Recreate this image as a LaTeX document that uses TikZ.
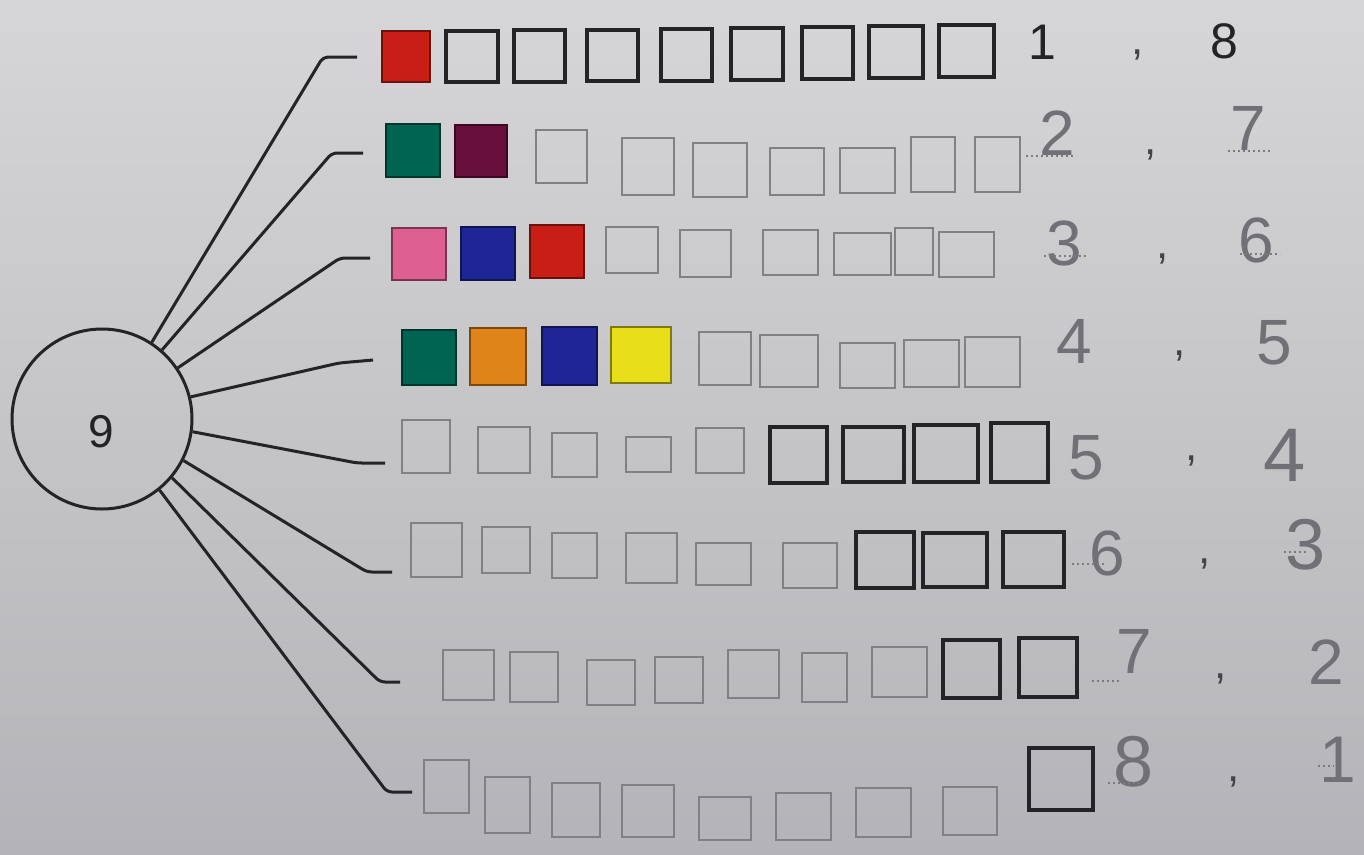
\documentclass[tikz,border=0pt]{standalone}
\usepackage{fontspec}
\setmainfont{Liberation Sans}
\usetikzlibrary{fit}
\definecolor{ink}{RGB}{35,35,40}
\definecolor{pencil}{RGB}{128,128,133}
\definecolor{hand}{RGB}{112,112,118}
\definecolor{bgtop}{RGB}{214,214,216}
\definecolor{bgbot}{RGB}{180,180,184}
\definecolor{cred}{RGB}{200,30,22}
\definecolor{cgreen}{RGB}{0,100,82}
\definecolor{cpurple}{RGB}{105,15,60}
\definecolor{cpink}{RGB}{222,95,145}
\definecolor{cblue}{RGB}{30,38,150}
\definecolor{corange}{RGB}{222,132,25}
\definecolor{cyellow}{RGB}{232,222,25}
\newcommand{\sqn}[6]{\node[#1, fit={(#3,#4) (#5,#6)}] (#2) {};}
\begin{document}
\begin{tikzpicture}[x=1pt,y=-1pt,
  sqbase/.style={rectangle, inner sep=0pt},
  graysq/.style={sqbase, draw=pencil, line width=2.3pt},
  blacksq/.style={sqbase, draw=ink, line width=3.2pt},
  colsq/.style={sqbase, fill=#1, draw=#1!55!black, line width=2.4pt},
  conn/.style={draw=ink, line width=3pt, rounded corners=5pt},
  ring/.style={circle, draw=ink, line width=3pt, minimum size=180pt, inner sep=0pt},
  printnum/.style={text=ink, font=\fontsize{50}{60}\selectfont, inner sep=0pt},
  handnum/.style={text=hand, font=\fontsize{64}{70}\selectfont, inner sep=0pt},
  commamark/.style={text=ink!85, font=\fontsize{44}{50}\selectfont, inner sep=0pt},
  dotline/.style={draw=ink!60, line width=1.6pt, dash pattern=on 1.6pt off 3.4pt}
]
\useasboundingbox (0,0) rectangle (1364,854);
\fill[top color=bgtop, bottom color=bgbot] (0,0) rectangle (1364,854);

% central circle
\node[ring] (c) at (102,419) {};
\node[printnum, font=\fontsize{46}{50}\selectfont] (nine) at (101,432) {9};

% row 1
\sqn{colsq=cred}{r1a}{382}{31}{430}{82}
\sqn{blacksq}{r1b}{446}{31}{498}{82}
\sqn{blacksq}{r1c}{514}{30}{565}{82}
\sqn{blacksq}{r1d}{587}{30}{638}{81}
\sqn{blacksq}{r1e}{661}{29}{712}{81}
\sqn{blacksq}{r1f}{731}{28}{783}{80}
\sqn{blacksq}{r1g}{802}{27}{853}{79}
\sqn{blacksq}{r1h}{869}{26}{923}{78}
\sqn{blacksq}{r1i}{939}{25}{994}{77}
% row 2
\sqn{colsq=cgreen}{r2a}{386}{124}{440}{177}
\sqn{colsq=cpurple}{r2b}{455}{125}{507}{177}
\sqn{graysq}{r2c}{536}{130}{587}{183}
\sqn{graysq}{r2d}{622}{138}{674}{195}
\sqn{graysq}{r2e}{693}{143}{747}{197}
\sqn{graysq}{r2f}{770}{148}{824}{195}
\sqn{graysq}{r2g}{840}{148}{895}{193}
\sqn{graysq}{r2h}{911}{137}{955}{192}
\sqn{graysq}{r2i}{975}{137}{1020}{192}
% row 3
\sqn{colsq=cpink}{r3a}{392}{228}{446}{280}
\sqn{colsq=cblue}{r3b}{461}{227}{515}{280}
\sqn{colsq=cred}{r3c}{530}{225}{584}{278}
\sqn{graysq}{r3d}{606}{227}{658}{273}
\sqn{graysq}{r3e}{680}{230}{731}{277}
\sqn{graysq}{r3f}{763}{230}{818}{275}
\sqn{graysq}{r3g}{834}{233}{891}{275}
\sqn{graysq}{r3h}{895}{228}{933}{275}
\sqn{graysq}{r3i}{939}{232}{994}{277}
% row 4
\sqn{colsq=cgreen}{r4a}{402}{330}{456}{385}
\sqn{colsq=corange}{r4b}{470}{328}{526}{385}
\sqn{colsq=cblue}{r4c}{542}{327}{597}{385}
\sqn{colsq=cyellow}{r4d}{611}{327}{671}{383}
\sqn{graysq}{r4e}{699}{332}{751}{385}
\sqn{graysq}{r4f}{760}{335}{818}{387}
\sqn{graysq}{r4g}{840}{343}{895}{388}
\sqn{graysq}{r4h}{904}{340}{959}{387}
\sqn{graysq}{r4i}{965}{337}{1020}{387}
% row 5
\sqn{graysq}{r5a}{402}{420}{450}{473}
\sqn{graysq}{r5b}{478}{427}{530}{473}
\sqn{graysq}{r5c}{552}{433}{597}{477}
\sqn{graysq}{r5d}{626}{437}{671}{472}
\sqn{graysq}{r5e}{696}{428}{744}{473}
\sqn{blacksq}{r5f}{770}{427}{827}{483}
\sqn{blacksq}{r5g}{843}{427}{904}{482}
\sqn{blacksq}{r5h}{914}{425}{978}{482}
\sqn{blacksq}{r5i}{991}{423}{1048}{482}
% row 6
\sqn{graysq}{r6a}{411}{523}{462}{577}
\sqn{graysq}{r6b}{482}{527}{530}{573}
\sqn{graysq}{r6c}{552}{533}{597}{578}
\sqn{graysq}{r6d}{626}{533}{677}{583}
\sqn{graysq}{r6e}{696}{543}{751}{585}
\sqn{graysq}{r6f}{783}{543}{837}{588}
\sqn{blacksq}{r6g}{856}{532}{914}{588}
\sqn{blacksq}{r6h}{923}{533}{987}{587}
\sqn{blacksq}{r6i}{1003}{532}{1064}{587}
% row 7
\sqn{graysq}{r7a}{443}{650}{494}{700}
\sqn{graysq}{r7b}{510}{652}{558}{702}
\sqn{graysq}{r7c}{587}{660}{635}{705}
\sqn{graysq}{r7d}{655}{657}{703}{703}
\sqn{graysq}{r7e}{728}{650}{779}{698}
\sqn{graysq}{r7f}{802}{653}{847}{702}
\sqn{graysq}{r7g}{872}{647}{927}{697}
\sqn{blacksq}{r7h}{943}{640}{1000}{698}
\sqn{blacksq}{r7i}{1019}{638}{1077}{697}
% row 8
\sqn{graysq}{r8a}{424}{760}{469}{813}
\sqn{graysq}{r8b}{485}{777}{530}{833}
\sqn{graysq}{r8c}{552}{783}{600}{837}
\sqn{graysq}{r8d}{622}{785}{674}{837}
\sqn{graysq}{r8e}{699}{797}{751}{840}
\sqn{graysq}{r8f}{776}{793}{831}{840}
\sqn{graysq}{r8g}{856}{788}{911}{837}
\sqn{graysq}{r8h}{943}{787}{997}{835}
\sqn{blacksq}{r8i}{1029}{748}{1093}{810}

% connectors
\coordinate (e1) at (323,57);  \coordinate (t1) at (357,57);
\coordinate (e2) at (332,153); \coordinate (t2) at (363,153);
\coordinate (e3) at (340,258); \coordinate (t3) at (370,258);
\coordinate (e4) at (339,363); \coordinate (t4) at (373,360);
\coordinate (e5) at (357,463); \coordinate (t5) at (385,463);
\coordinate (e6) at (367,572); \coordinate (t6) at (392,572);
\coordinate (e7) at (380,682); \coordinate (t7) at (400,682);
\coordinate (e8) at (387,792); \coordinate (t8) at (412,792);
\draw[conn] (c.57) -- (e1) -- (t1);
\draw[conn] (c.49) -- (e2) -- (t2);
\draw[conn] (c.34) -- (e3) -- (t3);
\draw[conn] (c.14) -- (e4) -- (t4);
\draw[conn] (c.-8) -- (e5) -- (t5);
\draw[conn] (c.-27) -- (e6) -- (t6);
\draw[conn] (c.-40) -- (e7) -- (t7);
\draw[conn] (c.-51) -- (e8) -- (t8);

% numbers
\node[printnum] (n1a) at (1042,42) {1};
\node[commamark] (k1) at (1138,55) {,};
\node[printnum] (n1b) at (1224,41) {8};

\node[handnum] (n2a) at (1057,133) {2};
\node[commamark] (k2) at (1151,155) {,};
\node[handnum] (n2b) at (1248,128) {7};

\node[handnum] (n3a) at (1064,243) {3};
\node[commamark] (k3) at (1163,259) {,};
\node[handnum] (n3b) at (1256,240) {6};

\node[handnum] (n4a) at (1074,341) {4};
\node[commamark] (k4) at (1180,356) {,};
\node[handnum] (n4b) at (1274,343) {5};

\node[handnum] (n5a) at (1086,458) {5};
\node[commamark] (k5) at (1192,461) {,};
\node[handnum, font=\fontsize{76}{80}\selectfont] (n5b) at (1285,455) {4};

\node[handnum] (n6a) at (1107,553) {6};
\node[commamark] (k6) at (1205,564) {,};
\node[handnum, font=\fontsize{72}{80}\selectfont] (n6b) at (1306,545) {3};

\node[handnum] (n7a) at (1134,651) {7};
\node[commamark] (k7) at (1221,679) {,};
\node[handnum] (n7b) at (1326,662) {2};

\node[handnum, font=\fontsize{72}{80}\selectfont] (n8a) at (1134,762) {8};
\node[commamark] (k8) at (1234,782) {,};
\node[handnum, font=\fontsize{66}{70}\selectfont] (n8b) at (1338,760) {1};

% dotted writing lines
\draw[dotline] (1026,156) -- (1076,156);
\draw[dotline] (1228,151) -- (1270,151);
\draw[dotline] (1044,256) -- (1086,256);
\draw[dotline] (1240,254) -- (1280,254);
\draw[dotline] (1072,564) -- (1104,564);
\draw[dotline] (1284,552) -- (1306,552);
\draw[dotline] (1092,681) -- (1122,681);
\draw[dotline] (1108,783) -- (1142,783);
\draw[dotline] (1318,766) -- (1334,766);
\end{tikzpicture}
\end{document}
